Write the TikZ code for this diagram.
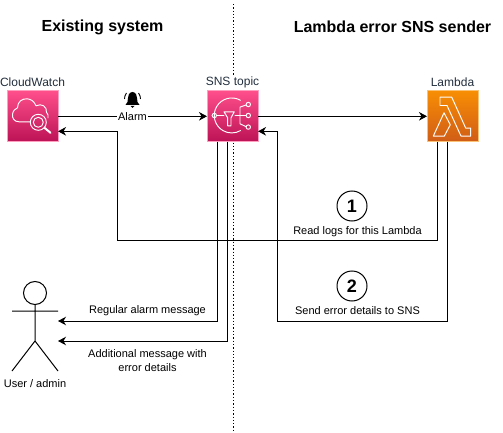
\documentclass[tikz,border=0pt]{standalone}
\usepackage{fontspec}
\setmainfont{Liberation Sans}
\usetikzlibrary{positioning, arrows.meta, calc}

\definecolor{labelgrey}{HTML}{232F3E}
\definecolor{pinktop}{HTML}{FF4F8B}
\definecolor{pinkbottom}{HTML}{BC1356}
\definecolor{orangetop}{HTML}{F78E04}
\definecolor{orangebottom}{HTML}{D05C17}
\tikzset{
    iconbox/.style={minimum size=51pt,inner sep=0pt,outer sep=0pt,draw=#1,line width=.8pt},
    pinkbox/.style={iconbox=pinktop!55!white,top color=pinktop,bottom color=pinkbottom},
    orangebox/.style={iconbox=orangetop!55!white,top color=orangetop,bottom color=orangebottom},
    iconline/.style={draw=white,line width=.95pt,line join=round,line cap=round},
    caption/.style={inner sep=0pt,text=black,align=center,font=\fontsize{11}{14}\selectfont},
    iconname/.style={inner sep=1pt,fill=white,text=labelgrey,font=\fontsize{12}{14}\selectfont},
    heading/.style={inner sep=0pt,text=black,font=\fontsize{16}{18}\bfseries\selectfont},
    stepmark/.style={circle,draw=black,line width=1pt,minimum size=30pt,inner sep=0pt,font=\fontsize{18}{20}\bfseries\selectfont},
    link/.style={->,draw=black,line width=1pt}
}

\begin{document}
\begin{tikzpicture}[x=1pt,y=-1pt,>={Stealth[length=8pt,width=8.5pt,inset=2.5pt]}]
        \useasboundingbox[fill=white] (0,0) rectangle (503,433);
        % titles and the divider
        \node[heading](existing) at (102.5,27) {Existing system};
        \node[heading](sender) at (392.5,27) {Lambda error SNS sender};
        \coordinate (split_top) at (233.5,4);
        \coordinate (split_bottom) at (233.5,432);
        \draw[line width=1.3pt,dotted] (split_top) -- (split_bottom);

        % services
        \node[pinkbox](cw) at (32.5,116.3) {};
        \node[pinkbox](sns) at (232.5,116.3) {};
        \node[orangebox](lambda) at (452.5,116.3) {};
        \node[iconname](cw_name) at (32.5,82) {CloudWatch};
        \node[iconname](sns_name) at (232.5,82) {SNS topic};
        \node[iconname](lambda_name) at (452.5,82) {Lambda};

        % cloudwatch glyph
        \begin{scope}[shift={(cw.north west)}]
            \draw[iconline] (23,31) -- (12,31) .. controls (7,31) and (5,27) .. (5.5,23.5)
                .. controls (6,20) and (8,18) .. (10.5,17)
                .. controls (10.5,11) and (15,7.5) .. (20.5,8)
                .. controls (24.5,8.5) and (27.5,11) .. (29,15)
                .. controls (35,12) and (40,16) .. (39.5,21.5)
                .. controls (41,23) and (41.5,25) .. (41,27);
            \draw[iconline] (31.3,31.5) circle[radius=8pt];
            \draw[iconline] (31.3,31.5) circle[radius=5pt];
            \draw[iconline,line width=2pt] (37.5,37) -- (43.5,42);
        \end{scope}

        % sns glyph
        \begin{scope}[shift={(sns.north west)}]
            \draw[iconline] (33.5,9.5) arc[start angle=60,end angle=300,radius=17.5pt];
            \draw[iconline] (7.3,24.7) circle[radius=2.2pt];
            \draw[iconline] (41.3,13.7) circle[radius=2.2pt];
            \draw[iconline] (41.3,24.7) circle[radius=2.2pt];
            \draw[iconline] (41.3,36.3) circle[radius=2.2pt];
            \draw[iconline] (9.5,24.7) -- (17,24.7);
            \draw[iconline] (28,24.7) -- (39,24.7);
            \draw[iconline] (39,14.2) -- (33,16.3) -- (33,33) -- (39,35.8);
            \draw[iconline] (17,21) -- (27.3,21) -- (24,27) -- (24,35) -- (20.7,35) -- (20.7,27) -- cycle;
        \end{scope}

        % lambda glyph
        \begin{scope}[shift={(lambda.north west)}]
            \draw[iconline,line cap=butt,miter limit=6] (13,6.3) -- (24.7,6.3) -- (38.7,37.3) -- (43.7,37.3)
                -- (43.7,45.3) -- (34,45.3) -- (20,14.7) -- (13,14.7) -- cycle;
            \draw[iconline,line cap=butt] (17,22) -- (23.3,34) -- (17.3,45.3) -- (6.3,45.3) -- cycle;
        \end{scope}

        % user
        \node[circle,draw=black,line width=1pt,minimum size=23pt,inner sep=0pt,outer sep=0pt](head) at (35,293) {};
        \coordinate (hip) at (35,341);
        \coordinate (arm_l) at (12,311);
        \coordinate (arm_r) at (58,311);
        \coordinate (foot_l) at (12,371);
        \coordinate (foot_r) at (58,371);
        \draw[line width=1pt] (head) -- (hip) (arm_l) -- (arm_r) (foot_l) -- (hip) -- (foot_r);
        \node[caption](user) at (35,384) {User / admin};

        % alarm bell
        \fill (132.5,92) .. controls (129,92.5) and (128,95) .. (128,98) .. controls (128,101) and (127.5,103) .. (125.5,105)
            -- (139.5,105) .. controls (137.5,103) and (137,101) .. (137,98) .. controls (137,95) and (136,92.5) .. (132.5,92) -- cycle;
        \fill (130.5,106) .. controls (131,108.5) and (134,108.5) .. (134.5,106) -- cycle;
        \draw[line width=.9pt] (126.5,93) .. controls (125,95) and (124.5,97) .. (124.5,99);
        \draw[line width=.9pt] (138.5,93) .. controls (140,95) and (140.5,97) .. (140.5,99);

        % connection points
        \coordinate (cw_back) at ($(cw.east)+(0,15)$);
        \coordinate (sns_back) at ($(sns.east)+(0,15)$);
        \coordinate (sns_a) at ($(sns.south)+(-15,0)$);
        \coordinate (sns_b) at ($(sns.south)+(-5,0)$);
        \coordinate (lambda_a) at ($(lambda.south)+(-15,0)$);
        \coordinate (lambda_b) at ($(lambda.south)+(-5,0)$);
        \coordinate (log_turn) at (117,240);
        \coordinate (send_turn) at (277,321);
        \coordinate (user_a) at (58,321);
        \coordinate (user_b) at (58,341);

        \draw[link] (cw) -- node[caption,fill=white,inner xsep=1pt,inner ysep=1pt](alarm) {Alarm} (sns);
        \draw[link] (sns) -- (lambda);
        \draw[link] (lambda_a) |- (log_turn) |- (cw_back);
        \draw[link] (lambda_b) |- (send_turn) |- (sns_back);
        \draw[link] (sns_a) |- (user_a);
        \draw[link] (sns_b) |- (user_b);

        % labels
        \node[stepmark](one) at (352,206) {1};
        \node[stepmark](two) at (352,286) {2};
        \node[caption](read_logs) at (357.5,231.5) {Read logs for this Lambda};
        \node[caption](send_details) at (357.5,311) {Send error details to SNS};
        \node[caption](regular) at (147.5,311) {Regular alarm message};
        \node[caption](additional) at (147.5,361) {Additional message with\\error details};
\end{tikzpicture}
\end{document}
